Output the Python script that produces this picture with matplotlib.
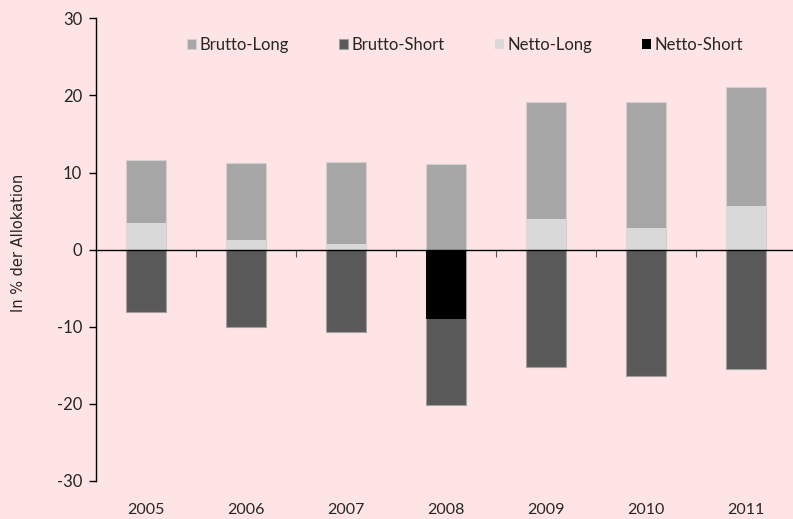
import matplotlib
matplotlib.use("Agg")
import matplotlib.pyplot as plt
import matplotlib.transforms as mtransforms
import numpy as np

years = ["2005", "2006", "2007", "2008", "2009", "2010", "2011"]
brutto_long = [11.6, 11.2, 11.4, 11.1, 19.2, 19.1, 21.1]
brutto_short = [-8.1, -10.0, -10.7, -20.1, -15.2, -16.4, -15.5]
netto_long = [3.5, 1.2, 0.7, 0.0, 4.0, 2.8, 5.6]
netto_short = [0.0, 0.0, 0.0, -9.0, 0.0, 0.0, 0.0]
yticks = [-30, -20, -10, 0, 10, 20, 30]

bg = "#FFE4E6"
W, H = 793, 519
fig = plt.figure(figsize=(W / 100, H / 100), dpi=100, facecolor=bg)
ax = fig.add_axes([96 / W, (H - 481) / H, 700 / W, (481 - 18.3) / H])
ax.set_facecolor(bg)

plt.rcParams["font.family"] = ["Lato", "DejaVu Sans"]
font = "Lato"
txt = "#262626"

x = np.arange(len(years))
w = 0.4
ax.bar(x, brutto_long, w, color="#A6A6A6", edgecolor="#D0D0D0", linewidth=0.8, label="Brutto-Long", zorder=1)
ax.bar(x, brutto_short, w, color="#595959", edgecolor="#A0A0A0", linewidth=0.8, label="Brutto-Short", zorder=1)
ax.bar(x, netto_long, w, color="#D9D9D9", edgecolor="none", linewidth=0, label="Netto-Long", zorder=1.5)
ax.bar(x, netto_short, w, color="#000000", edgecolor="none", linewidth=0, label="Netto-Short", zorder=1.5)

ax.set_xlim(-0.5, len(years) - 0.5)
ax.set_ylim(-30, 30)
ax.set_yticks(yticks)
ax.set_yticklabels([str(v) for v in yticks], fontsize=12, fontfamily=font, color=txt)
ax.tick_params(axis="y", direction="out", length=5, width=1, pad=5)

ax.spines["top"].set_visible(False)
ax.spines["right"].set_visible(False)
ax.spines["bottom"].set_position(("data", 0))
ax.spines["bottom"].set_linewidth(1)
ax.spines["left"].set_linewidth(1)

ax.set_xticks(np.arange(0.5, len(years) - 0.5, 1.0))
ax.set_xticklabels([])
ax.tick_params(axis="x", direction="out", length=5, width=0.8, color="#555555")

trans = mtransforms.blended_transform_factory(ax.transData, ax.transAxes)
for xi, yr in zip(x, years):
    ax.text(xi, -0.062, yr, transform=trans, ha="center", va="center",
            fontsize=11.5, fontfamily=font, color=txt)

ax.set_ylabel("In % der Allokation", fontsize=10.5, fontfamily="DejaVu Sans", color=txt)
ax.yaxis.set_label_coords(-0.1, 0.515)

leg = ax.legend(loc="center", bbox_to_anchor=(0.527, 0.942), ncol=4, frameon=False,
                handlelength=0.55, handleheight=0.55, handletextpad=0.2,
                columnspacing=3.0, prop={"family": font, "size": 12})
for t in leg.get_texts():
    t.set_color(txt)

fig.savefig("out.png", dpi=100, facecolor=bg)
